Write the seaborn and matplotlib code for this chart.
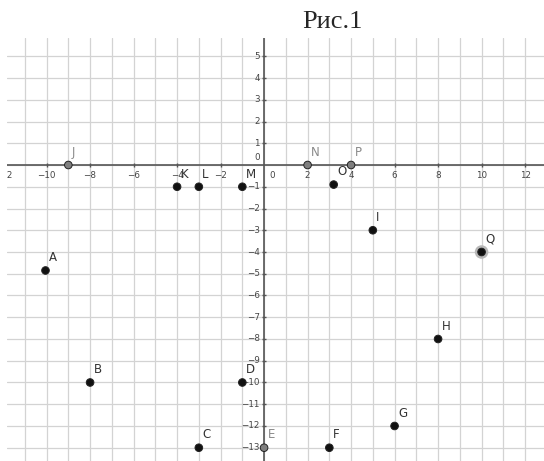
import numpy as np
import pandas as pd
import seaborn as sns
from matplotlib import pyplot as plt
from matplotlib.patches import Rectangle

# points
names = ["A", "B", "C", "D", "E", "F", "G", "H", "I", "J", "K", "L", "M", "N", "O", "P", "Q"]
xs = [-10.05, -8, -3, -1, 0, 3, 6, 8, 5, -9, -4, -3, -1, 2, 3.2, 4, 10]
ys = [-4.85, -10, -13, -10, -13, -13, -12, -8, -3, 0, -1, -1, -1, 0, -0.9, 0, -4]
kinds = ["free", "free", "free", "free", "fixed", "free", "free", "free", "free",
         "fixed", "free", "free", "free", "fixed", "free", "fixed", "free"]
selected = ["Q"]

x_labels = [-12, -10, -8, -6, -4, -2, 2, 4, 6, 8, 10, 12]
y_labels = [6, 5, 4, 3, 2, 1, -1, -2, -3, -4, -5, -6, -7, -8, -9, -10, -11, -12, -13]

df = pd.DataFrame({"name": names, "x": xs, "y": ys, "kind": kinds})

sns.set_style("white")
fig = plt.figure(figsize=(5.44, 4.61), dpi=100)
ax = fig.add_axes([7 / 544, 0, 537 / 544, 423 / 461])

# grid every unit
ax.set_xticks(np.arange(-12, 14))
ax.set_yticks(np.arange(-14, 7))
ax.tick_params(length=0, labelbottom=False, labelleft=False)
ax.grid(True, color="#d3d3d3", linewidth=0.9)
for s in ax.spines.values():
    s.set_visible(False)

# axes through the origin
ax.axhline(0, color="#555555", linewidth=1.2, zorder=2)
ax.axvline(0, color="#555555", linewidth=1.2, zorder=2)

tick_font = dict(fontsize=6.3, color="#444444")
for v in x_labels:
    ax.plot([v], [0], marker="|", markersize=3.5, color="#555555", zorder=2)
    ax.annotate(str(v).replace("-", "\u2212"), (v, 0), xytext=(0, -4),
                textcoords="offset points", ha="center", va="top",
                annotation_clip=False, **tick_font)
for v in y_labels:
    ax.plot([0], [v], marker="_", markersize=3.5, color="#555555", zorder=2)
    ax.annotate(str(v).replace("-", "\u2212"), (0, v), xytext=(-3, 0),
                textcoords="offset points", ha="right", va="center", **tick_font)
ax.annotate("0", (0, 0), xytext=(4, -4), textcoords="offset points",
            ha="left", va="top", **tick_font)
ax.annotate("0", (0, 0), xytext=(-3, 2), textcoords="offset points",
            ha="right", va="bottom", **tick_font)

# halo for selected point
sel = df[df["name"].isin(selected)]
sns.scatterplot(data=sel, x="x", y="y", s=95, color="#b8b8b8", edgecolor="none",
                ax=ax, zorder=3, legend=False)

sns.scatterplot(data=df, x="x", y="y", hue="kind", palette={"free": "#111111", "fixed": "#7f7f7f"},
                s=30, edgecolor="#222222", linewidth=0.7, ax=ax, zorder=4, legend=False)

for n, x, y, k in zip(names, xs, ys, kinds):
    ax.annotate(n, (x, y), xytext=(2.5, 4.5), textcoords="offset points",
                ha="left", va="bottom", fontsize=8.5,
                color="#333333" if k == "free" else "#8a8a8a", zorder=5)

ax.set_xlabel("")
ax.set_ylabel("")
# limits last so nothing rescales them
ax.set_xlim(-11.82, 12.87)
ax.set_ylim(-13.61, 5.84)

# screenshot was cropped: blank strip on the left edge
fig.add_artist(Rectangle((0, 0), 7 / 544, 1, transform=fig.transFigure,
                         facecolor="white", edgecolor="none", zorder=10))

fig.text(332 / 544, 1 - 28 / 461, "Рис.1", family="Liberation Serif", fontsize=19,
         ha="center", va="baseline")

fig.savefig("out.png", dpi=100)
